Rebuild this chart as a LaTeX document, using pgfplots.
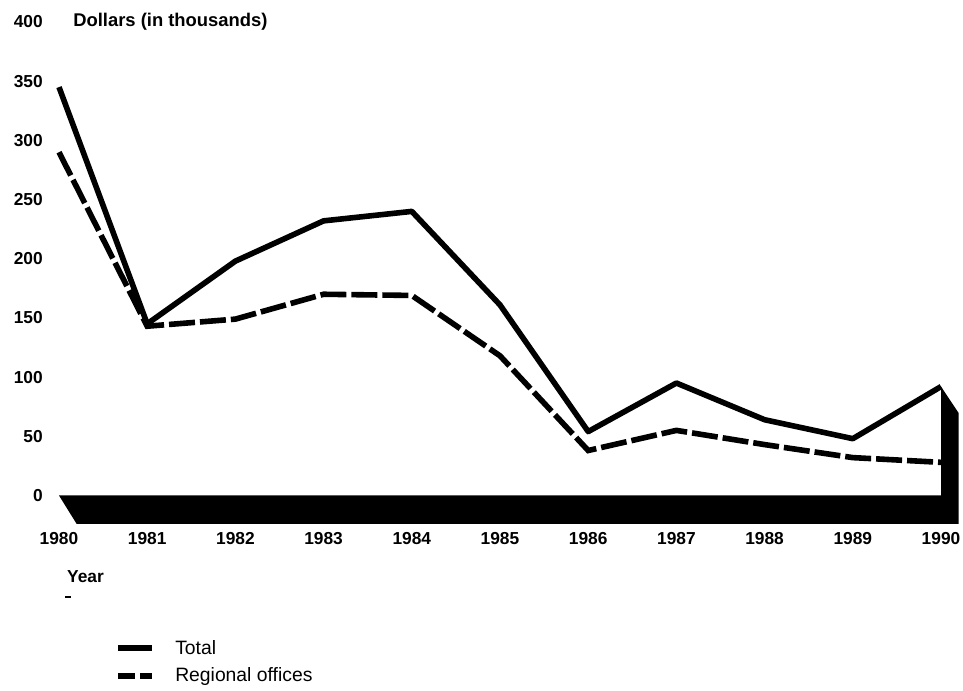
\documentclass[border=0pt]{standalone}
\usepackage{pgfplots}
\pgfplotsset{compat=1.18}
\usepackage{fontspec}
\setmainfont{Liberation Sans}
\newcommand{\tfont}{\fontsize{13}{15}\selectfont\bfseries}
\newcommand{\hfont}{\fontsize{13.8}{16}\selectfont\bfseries}
\newcommand{\lfont}{\fontsize{14.5}{17}\selectfont}
\begin{document}
\begin{tikzpicture}
\path[use as bounding box] (0,0) rectangle (722.25pt,517.5pt);
\begin{axis}[
  at={(44.25pt,119.25pt)}, anchor=south west,
  scale only axis, width=661.5pt, height=381.75pt,
  xmin=1980, xmax=1990, ymin=-30, ymax=400,
  axis line style={draw=none}, major tick length=0pt,
  xtick={1980,1981,...,1990}, ytick={0,50,...,400},
  /pgf/number format/assume math mode=true,
  /pgf/number format/1000 sep={},
  xticklabel style={anchor=north, inner sep=0pt, yshift=-1.2pt, font=\tfont},
  yticklabel style={anchor=east, inner sep=0pt, xshift=-12pt, font=\tfont},
  clip=false,
]
% 3-D floor and side wall
\addplot[fill=black, draw=none] coordinates {(1980,0) (1990,0) (1990,92) (1990.2,69.7) (1990.2,-24) (1980.2,-24)};
% Total
\addplot[black, line width=4.2pt, line join=round] coordinates {
(1980,345) (1981,145) (1982,198) (1983,232) (1984,240) (1985,161)
(1986,54) (1987,95) (1988,64) (1989,48) (1990,92)};
% Regional offices
\addplot[black, line width=4.2pt, dash pattern=on 19.5pt off 3.75pt] coordinates {
(1980,290) (1981,143) (1982,149) (1983,170) (1984,169) (1985,118)
(1986,38) (1987,55) (1988,43) (1989,32) (1990,28)};

\node[anchor=west, inner sep=0pt, font=\hfont] at (axis description cs:0.0159,1) {Dollars (in thousands)};
\node[anchor=west, inner sep=0pt, font=\tfont] at (axis description cs:0.009,-0.0904) {Year};
\draw[line width=1.8pt] (axis description cs:0.0068,-0.1297) -- (axis description cs:0.0136,-0.1297);
% legend
\draw[line width=3.8pt] (axis description cs:0.0669,-0.2299) -- (axis description cs:0.1054,-0.2299);
\node[anchor=west, inner sep=0pt, font=\lfont] at (axis description cs:0.1315,-0.2299) {Total};
\draw[line width=3.8pt] (axis description cs:0.0669,-0.2849) -- (axis description cs:0.0862,-0.2849);
\draw[line width=3.8pt] (axis description cs:0.0918,-0.2849) -- (axis description cs:0.1054,-0.2849);
\node[anchor=west, inner sep=0pt, font=\lfont] at (axis description cs:0.1315,-0.2849) {Regional offices};
\end{axis}
\end{tikzpicture}
\end{document}
